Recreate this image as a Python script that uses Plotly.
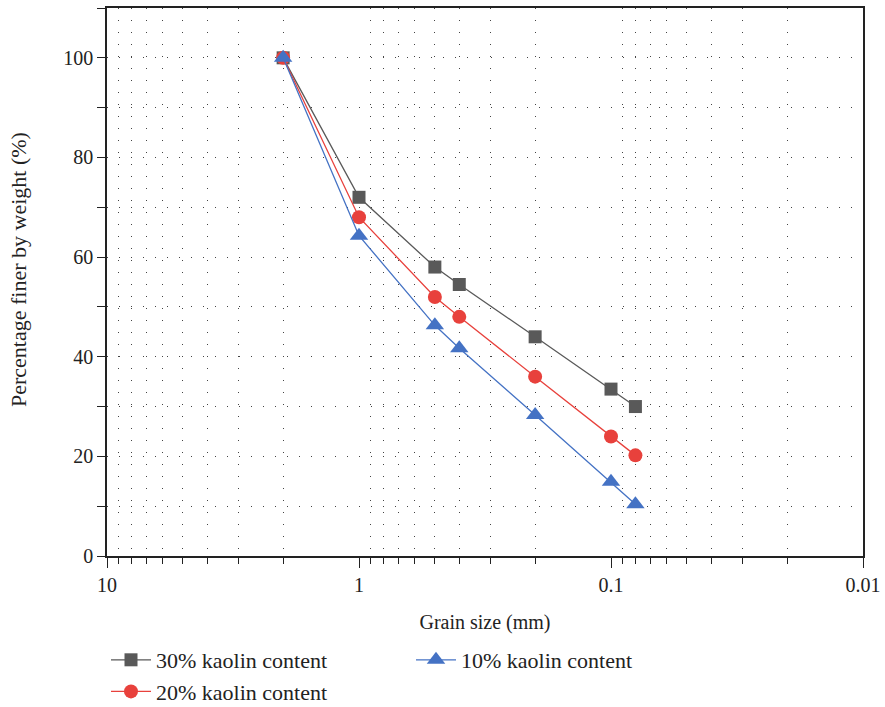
import plotly.graph_objects as go

grain_size = [2, 1, 0.5, 0.4, 0.2, 0.1, 0.08]
kaolin30 = [100, 72, 58, 54.5, 44, 33.5, 30]
kaolin20 = [100, 68, 52, 48, 36, 24, 20.2]
kaolin10 = [100, 64.3, 46.3, 41.7, 28.3, 14.9, 10.4]

names = ["30% kaolin content", "20% kaolin content", "10% kaolin content"]
colors = ["#595959", "#e8413c", "#4472c4"]
symbols = ["square", "circle", "triangle-up"]
sizes = [13, 14, 16]

minor_x = [m * 10.0 ** e for e in (-2, -1, 0) for m in range(2, 10)]

FONT = "Liberation Serif"
fig = go.Figure()
series = [kaolin30, kaolin20, kaolin10]
legends = ["legend", "legend", "legend2"]
groups = ["a", "b", "c"]
for ys, n, c, s, sz, lg, g in zip(series, names, colors, symbols, sizes, legends, groups):
    fig.add_trace(go.Scatter(
        x=grain_size, y=ys, name=n, mode="lines+markers",
        line=dict(color=c, width=1.3),
        marker=dict(symbol=s, size=sz, color=c),
        legend=lg, legendgroup=g,
    ))

grid_col = "#444444"
fig.update_layout(
    width=885, height=707,
    margin=dict(l=107, r=22, t=8, b=151, autoexpand=False),
    plot_bgcolor="white", paper_bgcolor="white",
    font=dict(family=FONT, size=20, color="#222"),
    xaxis=dict(
        type="log", range=[1, -2],
        tickvals=[10, 1, 0.1, 0.01], ticktext=["10", "1", "0.1", "0.01"],
        tickfont=dict(family=FONT, size=20, color="#222"),
        ticks="outside", ticklen=10, tickcolor="#222",
        showline=True, linecolor="#222", linewidth=1.5, mirror=True,
        showgrid=False, zeroline=False,
        minor=dict(tickmode="array", tickvals=minor_x,
                   ticks="outside", ticklen=6, tickcolor="#222",
                   showgrid=True, gridcolor=grid_col, griddash="1px,11px", gridwidth=1),
        title=dict(text="Grain size (mm)", font=dict(family=FONT, size=20), standoff=20),
    ),
    yaxis=dict(
        range=[0, 110], tickvals=[0, 20, 40, 60, 80, 100],
        tickfont=dict(family=FONT, size=20, color="#222"),
        ticks="outside", ticklen=8, tickcolor="#222",
        showline=True, linecolor="#222", linewidth=1.5, mirror=True,
        showgrid=True, gridcolor=grid_col, griddash="1px,11px", gridwidth=1,
        zeroline=False,
        minor=dict(dtick=10, ticks="outside", ticklen=8, tickcolor="#222",
                   showgrid=True, gridcolor=grid_col, griddash="1px,11px", gridwidth=1),
    ),
    annotations=[dict(
        text="Percentage finer by weight (%)", textangle=-90,
        xref="paper", yref="paper", x=(18 - 107) / 756, y=(556 - 270) / 548,
        xanchor="center", yanchor="middle", showarrow=False,
        font=dict(family=FONT, size=22, color="#222"),
    )],
    legend=dict(x=106 / 885, y=1 - 639 / 707, xanchor="left", yanchor="top",
                xref="container", yref="container",
                orientation="v", tracegroupgap=0, itemwidth=40,
                font=dict(family=FONT, size=22), bgcolor="rgba(0,0,0,0)"),
    legend2=dict(x=411 / 885, y=1 - 639 / 707, xanchor="left", yanchor="top",
                 xref="container", yref="container",
                 orientation="v", itemwidth=40,
                 font=dict(family=FONT, size=22), bgcolor="rgba(0,0,0,0)"),
)

fig.write_html("out.html")
